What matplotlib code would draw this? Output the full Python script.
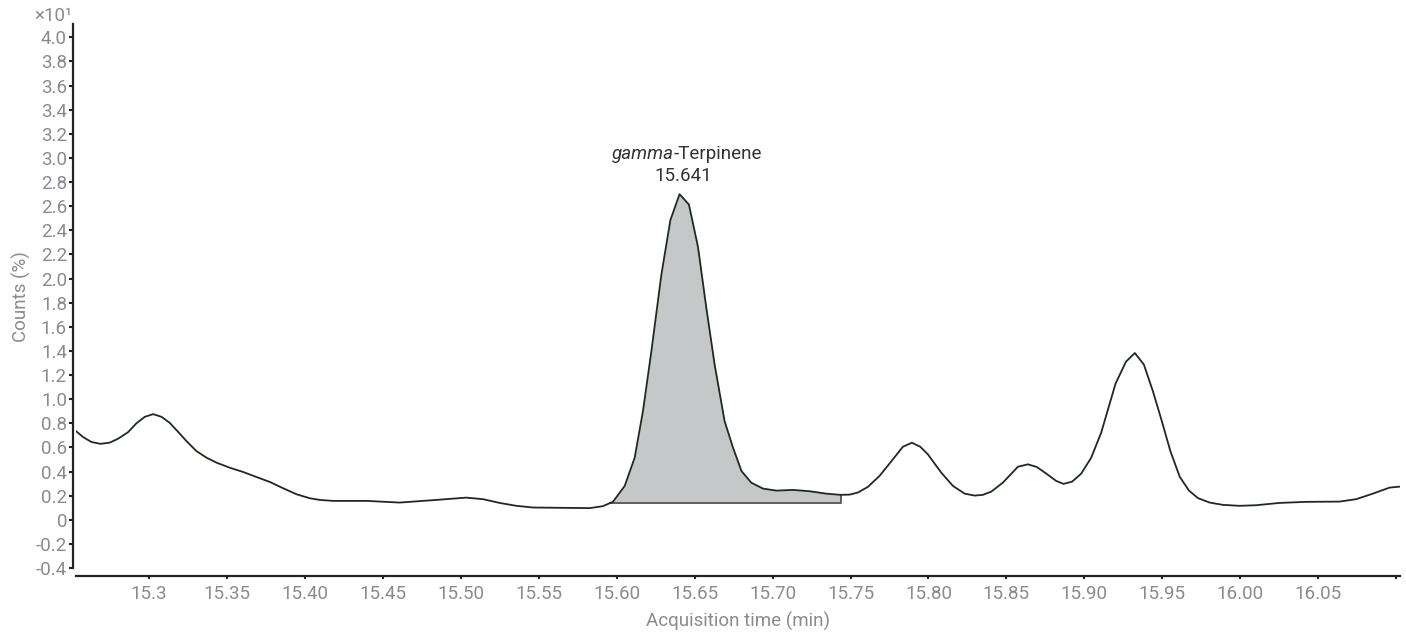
import numpy as np
import matplotlib
matplotlib.use("Agg")
import matplotlib.pyplot as plt

plt.rcParams['font.family'] = ['Roboto', 'DejaVu Sans']

# chromatogram trace (minutes, counts x10^1 %)
time_min = [15.253, 15.2576, 15.263, 15.2688, 15.2747, 15.280, 15.2865, 15.2918, 15.2972,
            15.3025, 15.3079, 15.3132, 15.3185, 15.3239, 15.3303, 15.3368, 15.3432, 15.3517,
            15.3602, 15.3688, 15.3774, 15.3859, 15.3945, 15.403, 15.4094, 15.418, 15.4394,
            15.4607, 15.4821, 15.5035, 15.5142, 15.5249, 15.5356, 15.5463, 15.5677, 15.5826,
            15.5911, 15.5976, 15.6051, 15.6115, 15.6168, 15.6222, 15.6286, 15.6344, 15.6403,
            15.6463, 15.6521, 15.6575, 15.6628, 15.6692, 15.6746, 15.680, 15.6863, 15.6938,
            15.7024, 15.713, 15.7237, 15.7344, 15.7436, 15.7494, 15.7547, 15.7611, 15.7686,
            15.7772, 15.7836, 15.7894, 15.7947, 15.7996, 15.8082, 15.8157, 15.8232, 15.8296,
            15.8349, 15.8403, 15.8477, 15.8574, 15.8638, 15.8695, 15.8756, 15.882, 15.8867,
            15.8922, 15.898, 15.9044, 15.9108, 15.9200, 15.9267, 15.9324, 15.9382, 15.9440,
            15.9494, 15.9552, 15.9612, 15.9671, 15.9729, 15.9804, 15.9889, 15.9996, 16.0103,
            16.0252, 16.0423, 16.0637, 16.0744, 16.0851, 16.0958, 16.1022]
counts = [0.736, 0.686, 0.645, 0.630, 0.640, 0.672, 0.727, 0.800, 0.854,
          0.876, 0.854, 0.804, 0.730, 0.653, 0.570, 0.515, 0.474, 0.432,
          0.397, 0.355, 0.314, 0.262, 0.212, 0.179, 0.165, 0.157, 0.157,
          0.143, 0.163, 0.184, 0.171, 0.140, 0.116, 0.102, 0.099, 0.097,
          0.113, 0.150, 0.281, 0.515, 0.900, 1.397, 2.030, 2.485, 2.700,
          2.614, 2.264, 1.755, 1.287, 0.818, 0.598, 0.405, 0.308, 0.259,
          0.242, 0.248, 0.237, 0.217, 0.207, 0.209, 0.226, 0.273, 0.364,
          0.502, 0.606, 0.639, 0.606, 0.543, 0.391, 0.281, 0.217, 0.201,
          0.207, 0.234, 0.308, 0.440, 0.460, 0.438, 0.383, 0.322, 0.298,
          0.317, 0.383, 0.515, 0.722, 1.128, 1.311, 1.383, 1.287, 1.066,
          0.832, 0.570, 0.357, 0.243, 0.180, 0.143, 0.124, 0.116, 0.121,
          0.140, 0.149, 0.151, 0.171, 0.217, 0.267, 0.275]

# integrated peak
peak_start, peak_end = 15.5955, 15.7436
peak_baseline = 0.138
peak_name = 'gamma'
peak_rt = '15.641'

xticks = [15.30, 15.35, 15.40, 15.45, 15.50, 15.55, 15.60, 15.65, 15.70,
          15.75, 15.80, 15.85, 15.90, 15.95, 16.00, 16.05, 16.10]
xticklabels = ['15.3', '15.35', '15.40', '15.45', '15.50', '15.55', '15.60', '15.65', '15.70',
               '15.75', '15.80', '15.85', '15.90', '15.95', '16.00', '16.05', '']
yticks = [round(-0.4 + 0.2 * i, 1) for i in range(23)]
yticklabels = ['0' if v == 0 else '%.1f' % v for v in yticks]

t = np.array(time_min)
c = np.array(counts)
fs = 13.5
grey = '#888b91'

fig = plt.figure(figsize=(14.06, 6.34), dpi=100)
ax = fig.add_axes([0.054, 0.104, 0.9417, 0.858])

# shaded peak area
mask = (t > peak_start) & (t < peak_end)
ft = np.concatenate([[peak_start], t[mask], [peak_end]])
fc = np.concatenate([[np.interp(peak_start, t, c)], c[mask], [np.interp(peak_end, t, c)]])
ax.fill_between(ft, peak_baseline, fc, color='#c6c7c9', lw=0)
ax.plot([peak_start, peak_end, peak_end], [peak_baseline, peak_baseline, fc[-1]],
        color='#555555', lw=1.3)

ax.plot(t, c, color='#1d2b1d', lw=1.3)

ax.text(15.6365, 3.03, peak_name, fontstyle='italic', ha='right', va='center',
        fontsize=fs, color='#333333')
ax.text(15.6365, 3.03, '-Terpinene', ha='left', va='center', fontsize=fs, color='#333333')
ax.text(15.6429, 2.85, peak_rt, ha='center', va='center', fontsize=fs, color='#333333')

ax.set_xlim(15.253, 16.1025)
ax.set_ylim(-0.4, 4.11)
ax.set_xticks(xticks)
ax.set_xticklabels(xticklabels)
ax.set_yticks(yticks)
ax.set_yticklabels(yticklabels)

for s in ['top', 'right']:
    ax.spines[s].set_visible(False)
ax.spines['left'].set_position(('outward', 2.4))
ax.spines['bottom'].set_position(('outward', 5.8))
for s in ['left', 'bottom']:
    ax.spines[s].set_linewidth(1.6)
    ax.spines[s].set_color('#222222')
ax.tick_params(axis='y', length=3, width=1.5, color='#222222', labelsize=fs,
               labelcolor=grey, pad=1)
ax.tick_params(axis='x', length=2.5, width=1.5, color='#222222', labelsize=fs,
               labelcolor=grey, pad=4)

ax.set_xlabel('Acquisition time (min)', fontsize=fs, color=grey, labelpad=6)
ax.set_ylabel('Counts (%)', fontsize=fs, color=grey, labelpad=3)
fig.text(0.0515, 0.975, '×10¹', ha='right', va='center', fontsize=fs, color=grey)

fig.savefig('out.png', dpi=100)
